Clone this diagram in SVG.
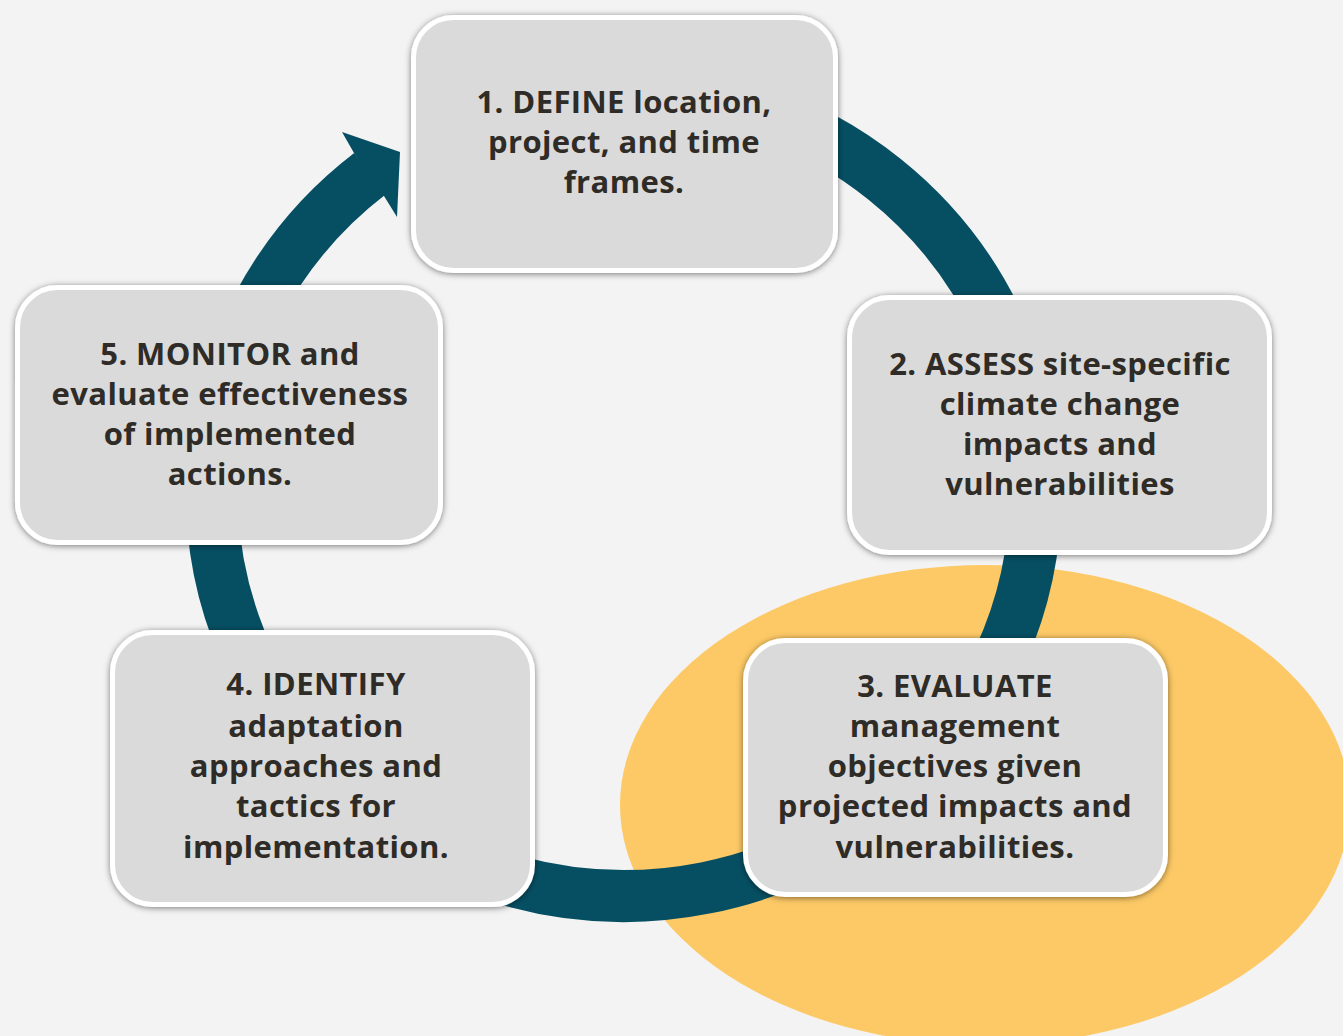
<svg xmlns="http://www.w3.org/2000/svg" width="1343" height="1036" viewBox="0 0 1343 1036">
<defs>
<style>
.box{fill:#dadada;stroke:#ffffff;stroke-width:5;filter:url(#sh)}
.t{font-family:"Open Sans","Lato",sans-serif;font-weight:700;font-size:31px;letter-spacing:0.4px;fill:#2f2c27;text-anchor:middle}
.ring{fill:none;stroke:#064f63;stroke-width:52}
</style>
<filter id="sh" x="-10%" y="-10%" width="120%" height="120%">
<feDropShadow dx="0" dy="1" stdDeviation="3" flood-color="#000" flood-opacity="0.5"/>
</filter>
</defs>
<rect x="0" y="0" width="1343" height="1036" fill="#f3f3f3"/>
<ellipse id="highlight" cx="985" cy="805" rx="365" ry="240" fill="#fdc966"/>
<g id="connectors">
<path class="ring" d="M 730.6 101.8 A 412 404 0 1 1 370 173.7"/>
<polygon fill="#064f63" points="354,153 342,132 400,152 397,217 384,196"/>
</g>
<g id="node1">
<rect class="box" x="413.5" y="17.5" width="422" height="253" rx="40"/>
<text class="t" x="624" y="113">1. DEFINE location,</text>
<text class="t" x="624" y="153">project, and time</text>
<text class="t" x="624" y="193">frames.</text>
</g>
<g id="node2">
<rect class="box" x="849.5" y="297.5" width="420" height="255" rx="40"/>
<text class="t" x="1060" y="375">2. ASSESS site-specific</text>
<text class="t" x="1060" y="415">climate change</text>
<text class="t" x="1060" y="455">impacts and</text>
<text class="t" x="1060" y="495">vulnerabilities</text>
</g>
<g id="node3">
<rect class="box" x="745.5" y="640.5" width="420" height="254" rx="40"/>
<text class="t" x="955" y="697">3. EVALUATE</text>
<text class="t" x="955" y="737">management</text>
<text class="t" x="955" y="777">objectives given</text>
<text class="t" x="955" y="817">projected impacts and</text>
<text class="t" x="955" y="858">vulnerabilities.</text>
</g>
<g id="node4">
<rect class="box" x="112.5" y="632.5" width="420" height="272" rx="40"/>
<text class="t" x="316" y="695">4. IDENTIFY</text>
<text class="t" x="316" y="737">adaptation</text>
<text class="t" x="316" y="777">approaches and</text>
<text class="t" x="316" y="817">tactics for</text>
<text class="t" x="316" y="858">implementation.</text>
</g>
<g id="node5">
<rect class="box" x="17.5" y="287.5" width="423" height="255" rx="40"/>
<text class="t" x="230" y="365">5. MONITOR and</text>
<text class="t" x="230" y="405">evaluate effectiveness</text>
<text class="t" x="230" y="445">of implemented</text>
<text class="t" x="230" y="485">actions.</text>
</g>
</svg>
